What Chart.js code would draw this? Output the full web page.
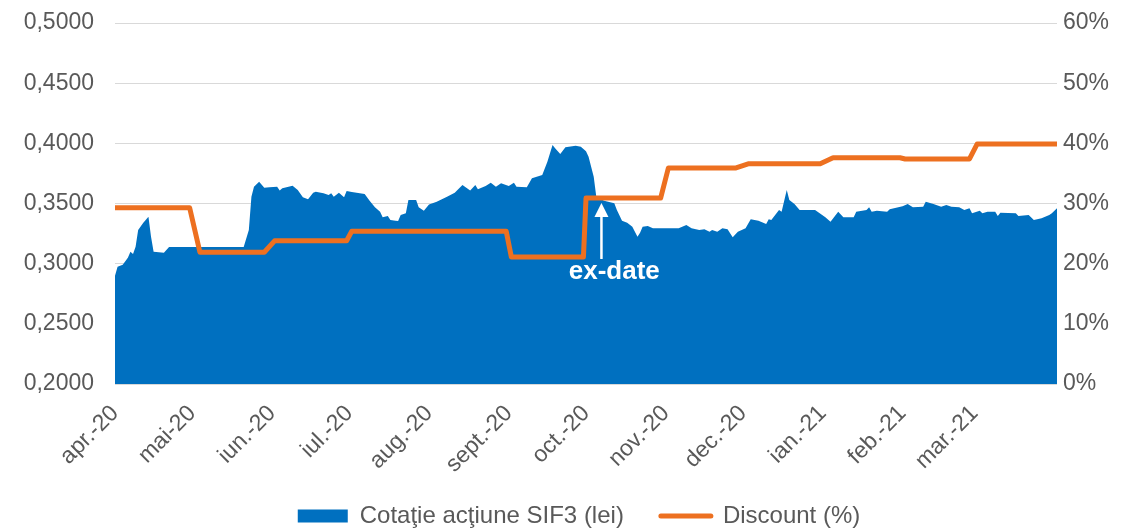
<!DOCTYPE html>
<html><head><meta charset="utf-8">
<script src="https://cdn.jsdelivr.net/npm/chart.js@4.4.1/dist/chart.umd.min.js"></script>
<style>html,body{margin:0;padding:0;background:#fff}canvas{display:block}</style>
</head><body>
<canvas id="c" width="1127" height="528"></canvas>
<script>
// Days counted from 1 April 2020
const monthTickDays = [0,30,61,91,122,153,183,214,244,275,306,334];
const monthLabels = ['apr.-20','mai-20','iun.-20','iul.-20','aug.-20','sept.-20','oct.-20','nov.-20','dec.-20','ian.-21','feb.-21','mar.-21'];
const seriesNames = ['Cotaţie acţiune SIF3 (lei)', 'Discount (%)'];

const priceDays = [0,1,3,5,6,7,8,9,11,13,14,15,19,21,50,52,53,54,56,58,60,63,64,65,69,71,73,75,77,78,81,83,84,85,87,89,90,92,97,99,101,103,104,106,107,109,110,111,113,114,117,118,120,122,125,129,132,135,138,140,141,144,146,148,150,153,155,156,160,162,166,168,170,171,173,175,179,181,183,184,186,187,190,194,195,197,199,201,203,204,205,207,209,219,222,224,227,229,231,232,234,236,238,240,242,245,247,250,253,254,255,258,259,261,262,264,266,272,276,278,281,283,287,288,292,293,294,296,300,301,306,308,310,314,315,318,321,323,325,328,330,332,333,336,337,339,342,343,344,350,351,355,357,360,363,364,366];
const priceValues = [0.2900,0.2975,0.2990,0.3050,0.3100,0.3080,0.3140,0.3280,0.3340,0.3390,0.3224,0.3100,0.3090,0.3138,0.3138,0.3280,0.3557,0.3640,0.3680,0.3630,0.3635,0.3640,0.3607,0.3626,0.3648,0.3612,0.3551,0.3535,0.3590,0.3598,0.3585,0.3570,0.3585,0.3557,0.3590,0.3551,0.3604,0.3596,0.3579,0.3521,0.3468,0.3432,0.3385,0.3396,0.3363,0.3357,0.3355,0.3404,0.3418,0.3530,0.3530,0.3468,0.3440,0.3492,0.3515,0.3557,0.3590,0.3654,0.3607,0.3654,0.3618,0.3646,0.3673,0.3640,0.3668,0.3646,0.3673,0.3640,0.3635,0.3709,0.3737,0.3847,0.3986,0.3959,0.3911,0.3967,0.3980,0.3972,0.3935,0.3889,0.3723,0.3557,0.3523,0.3502,0.3446,0.3357,0.3340,0.3307,0.3224,0.3257,0.3307,0.3313,0.3294,0.3294,0.3321,0.3294,0.3280,0.3286,0.3266,0.3280,0.3266,0.3294,0.3286,0.3219,0.3266,0.3295,0.3369,0.3357,0.3330,0.3369,0.3363,0.3446,0.3432,0.3612,0.3530,0.3496,0.3446,0.3446,0.3385,0.3349,0.3432,0.3385,0.3385,0.3432,0.3446,0.3468,0.3432,0.3440,0.3432,0.3452,0.3478,0.3496,0.3468,0.3473,0.3515,0.3496,0.3473,0.3488,0.3473,0.3468,0.3446,0.3460,0.3418,0.3440,0.3418,0.3432,0.3432,0.3396,0.3424,0.3418,0.3396,0.3404,0.3363,0.3377,0.3404,0.3418,0.3460];

const discountDays = [0,29,33,58,62,90,92,152,154,182,183,212,215,241,246,274,279,305,307,332,335,366];
const discountValues = [29.3,29.3,21.9,21.9,23.8,23.8,25.4,25.4,21.1,21.1,30.9,30.9,35.9,35.9,36.6,36.6,37.6,37.6,37.4,37.4,39.9,39.9];

const leftTicks = {min: 0.2, max: 0.5, step: 0.05};
const rightTicks = {min: 0, max: 60, step: 10};

const exDate = {day: 189, arrowTop: 0.3504, arrowBase: 0.3039, labelDay: 194, labelValue: 0.2873, text: 'ex-date'};

const BLUE = '#0070C0', ORANGE = '#ED7020', GREY = '#595959';
const FONT = "'Liberation Sans', Arial, sans-serif";
Chart.defaults.font.family = FONT;
Chart.defaults.color = GREY;

const exDatePlugin = {
  id: 'exDate',
  afterDatasetsDraw(chart) {
    const {ctx, scales: {x, y}} = chart;
    const px = x.getPixelForValue(exDate.day);
    const top = y.getPixelForValue(exDate.arrowTop);
    const bottom = y.getPixelForValue(exDate.arrowBase);
    ctx.save();
    ctx.fillStyle = '#fff'; ctx.strokeStyle = '#fff'; ctx.lineWidth = 2.5;
    ctx.beginPath(); ctx.moveTo(px, bottom); ctx.lineTo(px, top + 12); ctx.stroke();
    ctx.beginPath(); ctx.moveTo(px, top); ctx.lineTo(px - 7, top + 14); ctx.lineTo(px + 7, top + 14); ctx.closePath(); ctx.fill();
    ctx.font = 'bold 26px ' + FONT;
    ctx.textAlign = 'center'; ctx.textBaseline = 'alphabetic';
    ctx.fillText(exDate.text, x.getPixelForValue(exDate.labelDay), y.getPixelForValue(exDate.labelValue));
    ctx.restore();
  }
};
// widen label clip areas and lower the legend slightly
const layoutTweak = {
  id: 'layoutTweak',
  afterLayout(chart) {
    if (chart.legend) { chart.legend.top += 10; chart.legend.bottom += 10; }
    chart.scales.x.bottom = chart.height;
    chart.scales.y.left = 0;
    chart.scales.y1.right = chart.width;
  }
};

new Chart(document.getElementById('c'), {
  type: 'line',
  data: {
    datasets: [
      {label: seriesNames[0], data: priceDays.map((d, i) => ({x: d, y: priceValues[i]})), yAxisID: 'y',
       fill: 'start', backgroundColor: BLUE, borderColor: BLUE, borderWidth: 0, pointRadius: 0, tension: 0, order: 2},
      {label: seriesNames[1], data: discountDays.map((d, i) => ({x: d, y: discountValues[i]})), yAxisID: 'y1',
       fill: false, borderColor: ORANGE, backgroundColor: ORANGE, borderWidth: 5, pointRadius: 0, tension: 0,
       borderJoinStyle: 'round', borderCapStyle: 'round', order: 1}
    ]
  },
  options: {
    responsive: false, animation: false, devicePixelRatio: 1,
    layout: {padding: {left: 31, right: 0, top: 23, bottom: 0}},
    plugins: {
      tooltip: {enabled: false},
      legend: {
        position: 'bottom',
        labels: {
          usePointStyle: true, pointStyleWidth: 50, boxHeight: 13, padding: 37,
          font: {size: 24}, color: GREY,
          generateLabels: chart => chart.data.datasets.map((ds, i) => ({
            text: ds.label, datasetIndex: i, hidden: false,
            fillStyle: i === 0 ? BLUE : ORANGE, strokeStyle: i === 0 ? BLUE : ORANGE,
            lineWidth: i === 0 ? 0 : 5, lineCap: 'round',
            pointStyle: i === 0 ? 'rect' : 'line', fontColor: GREY
          }))
        }
      }
    },
    scales: {
      x: {
        type: 'linear', min: 0, max: 366,
        afterBuildTicks: s => { s.ticks = monthTickDays.map(v => ({value: v})); },
        afterFit: s => { s.height = 73; },
        grid: {display: false}, border: {display: false},
        ticks: {autoSkip: false, minRotation: 45, maxRotation: 45, padding: 8, font: {size: 23}, color: GREY,
                callback: (v, i) => monthLabels[i]}
      },
      y: {
        position: 'left', min: leftTicks.min, max: leftTicks.max,
        afterFit: s => { s.width = 84; },
        grid: {color: '#D9D9D9', lineWidth: 1, drawTicks: true, tickLength: 21, tickColor: 'rgba(0,0,0,0)'},
        border: {display: false},
        ticks: {stepSize: leftTicks.step, padding: 0, font: {size: 23}, color: GREY,
                callback: v => v.toFixed(4).replace('.', ',')}
      },
      y1: {
        position: 'right', min: rightTicks.min, max: rightTicks.max,
        afterFit: s => { s.width = 70; },
        grid: {display: false, drawTicks: false}, border: {display: false},
        ticks: {stepSize: rightTicks.step, padding: 6, font: {size: 23}, color: GREY,
                callback: v => Math.round(v) + '%'}
      }
    }
  },
  plugins: [exDatePlugin, layoutTweak]
});
</script>
</body></html>
